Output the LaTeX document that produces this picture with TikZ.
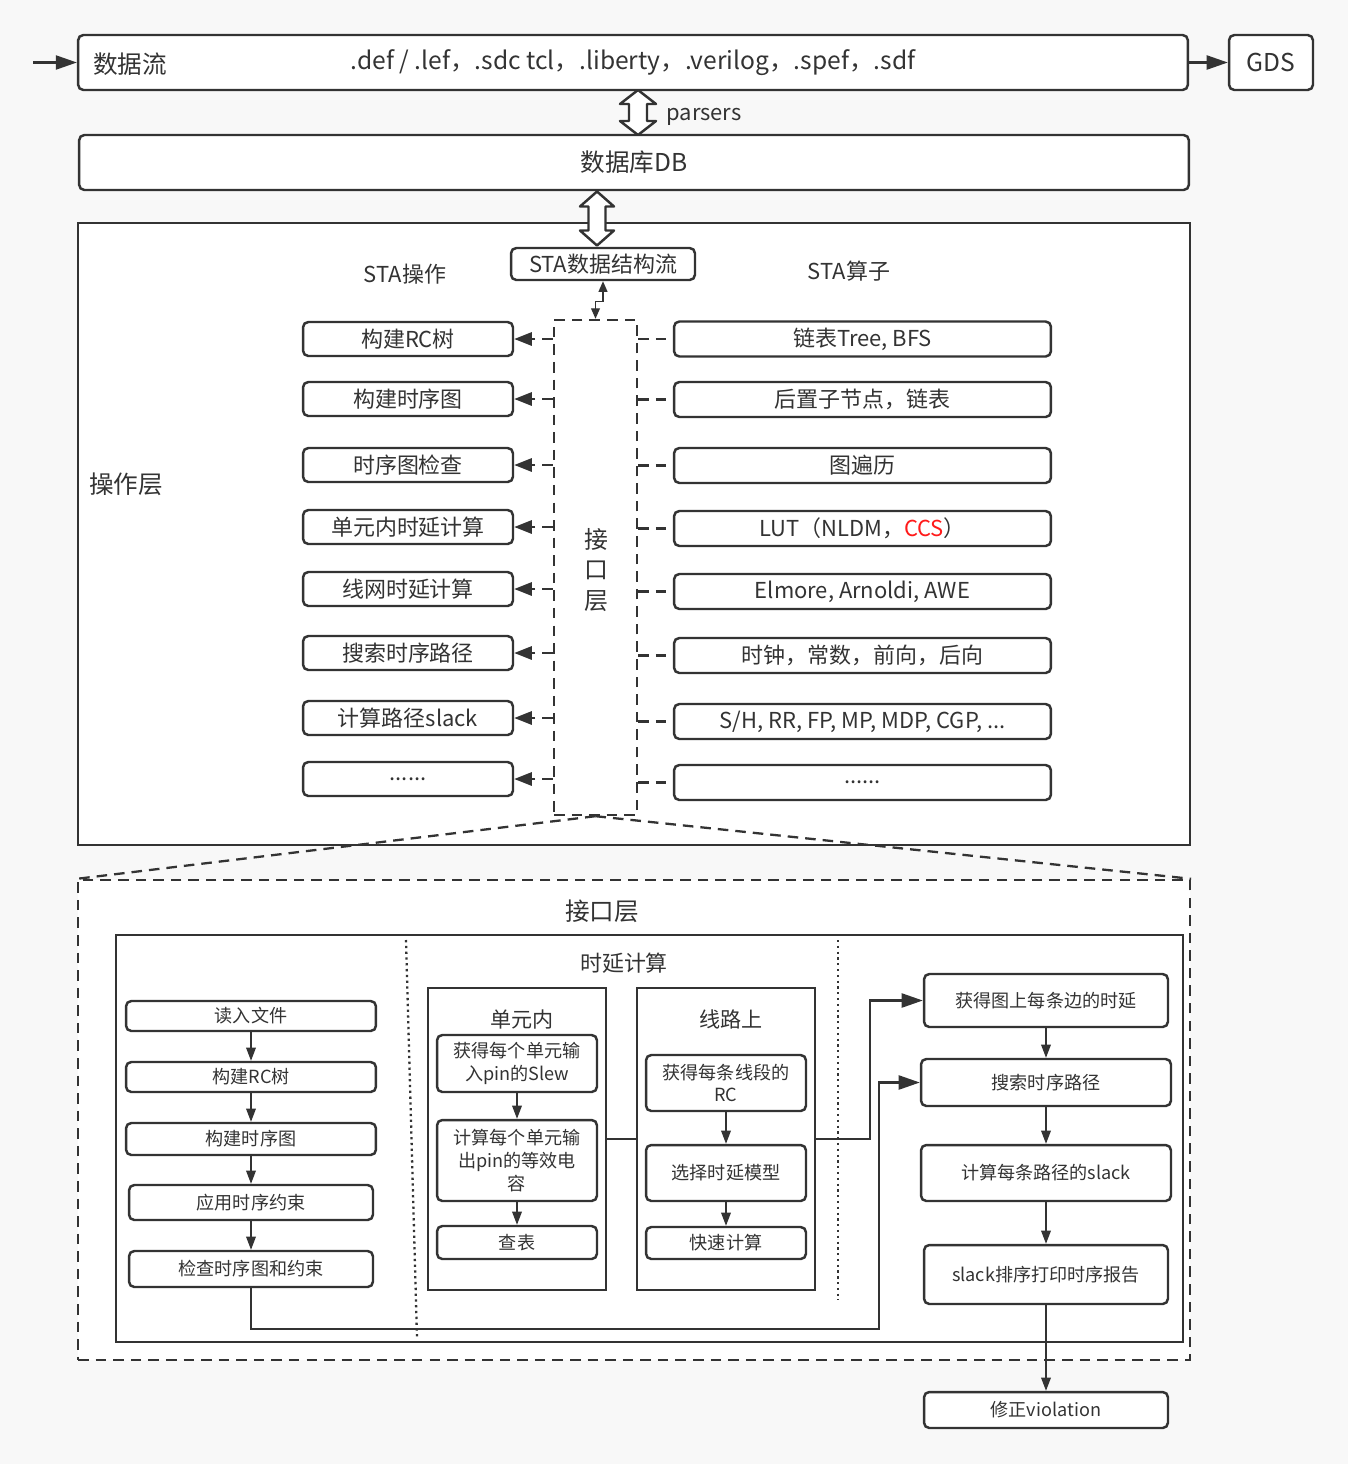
\documentclass[tikz,border=0pt]{standalone}
\usepackage{fontspec}
\setmainfont{Noto Sans CJK SC}
\usepackage{tikz}
\usetikzlibrary{arrows.meta,positioning,calc}
\definecolor{linec}{HTML}{333333}
\definecolor{txtc}{HTML}{333333}
\definecolor{bgc}{HTML}{F8F8F8}
\definecolor{ccsred}{HTML}{FF1A1A}

\begin{document}
\begin{tikzpicture}[
    x=0.02cm, y=-0.02cm,
    every node/.style={text=txtc, inner sep=0pt},
    bigfont/.style={font=\fontsize{14}{17}\selectfont},
    midfont/.style={font=\fontsize{12.5}{15}\selectfont},
    smallfont/.style={font=\fontsize{10.3}{13}\selectfont},
    box/.style={rectangle, draw=linec, fill=white, line width=1.4pt, rounded corners=3pt},
    opbox/.style={box, midfont, minimum width=4.2cm, minimum height=0.68cm},
    algbox/.style={box, midfont, minimum width=7.54cm, minimum height=0.7cm},
    stepbox/.style={box, smallfont, minimum width=5cm, minimum height=0.6cm},
    subbox/.style={box, smallfont, minimum width=3.2cm, align=center},
    frame/.style={rectangle, draw=linec, fill=white, line width=1.4pt},
    ifacebox/.style={rectangle, draw=linec, line width=1.4pt, dash pattern=on 6pt off 4pt},
    flow/.style={-{Triangle[length=12pt,width=8pt]}, draw=linec, line width=1.2pt},
    opflow/.style={-{Triangle[length=10pt,width=7.5pt]}, draw=linec, line width=1.3pt, dash pattern=on 6pt off 4pt},
    link/.style={draw=linec, line width=1.3pt, dash pattern=on 6pt off 4pt},
    sflow/.style={-{Triangle[length=7.5pt,width=5.5pt]}, draw=linec, line width=0.8pt},
    biflow/.style={{Triangle[length=6pt,width=5pt]}-{Triangle[length=6pt,width=5pt]}, draw=linec, line width=0.8pt},
    dotsep/.style={draw=linec, line width=1.3pt, dash pattern=on 1.3pt off 2pt},
    hollow/.style={draw=linec, fill=white, line width=1.4pt, line join=round}
]
\fill[bgc] (0,0) rectangle (1348,1464);

% Input files, database and output
\node[box, bigfont, minimum width=22.2cm, minimum height=1.1cm] (flow) at (633,62.5) {.def / .lef，.sdc tcl，.liberty，.verilog，.spef，.sdf};
\node[bigfont, anchor=west] (flowlbl) at (93,64) {数据流};
\node[box, bigfont, minimum width=1.68cm, minimum height=1.1cm] (gds) at (1271,62.5) {GDS};
\node[box, bigfont, minimum width=22.2cm, minimum height=1.1cm] (db) at (634,162.5) {数据库DB};
\coordinate (src) at (33,62.5);
\draw[flow] (src) -- (flow.west);
\draw[flow] (flow.east) -- (gds.west);

% parsers
\coordinate (parse) at (638,112.5);
\draw[hollow] (parse) ++(0,-22.5) -- ++(18,14) -- ++(-9,0) -- ++(0,17) -- ++(9,0) -- ++(-18,14)
    -- ++(-18,-14) -- ++(9,0) -- ++(0,-17) -- ++(-9,0) -- cycle;
\node[midfont] (parselbl) at (704,117) {parsers};

% Operation layer
\node[frame, minimum width=22.24cm, minimum height=12.44cm] (oplayer) at (634,534) {};
\node[bigfont] (oplbl) at (126,484) {操作层};
\coordinate (dbio) at (597,218.5);
\draw[hollow] (dbio) ++(0,-27) -- ++(17,15) -- ++(-8.5,0) -- ++(0,24) -- ++(8.5,0) -- ++(-17,15)
    -- ++(-17,-15) -- ++(8.5,0) -- ++(0,-24) -- ++(-8.5,0) -- cycle;

\node[box, midfont, minimum width=3.68cm, minimum height=0.64cm] (stad) at (603,264) {STA数据结构流};
\node[midfont] (ophead) at (405,274) {STA操作};
\node[midfont] (alghead) at (849,271) {STA算子};

\node[ifacebox, minimum width=1.66cm, minimum height=9.9cm] (iface) at (595.5,567.5) {};
\node[font=\fontsize{13.6}{17.6}\selectfont, align=center] (ifacelbl) at (596,570) {接\\口\\层};
\draw[biflow] (stad.south) -- ++(0,20) -| (iface.north);

\node[opbox] (o1) at (408,339) {构建RC树};
\node[opbox] (o2) at (408,399) {构建时序图};
\node[opbox] (o3) at (408,465) {时序图检查};
\node[opbox] (o4) at (408,527) {单元内时延计算};
\node[opbox] (o5) at (408,589) {线网时延计算};
\node[opbox] (o6) at (408,653) {搜索时序路径};
\node[opbox] (o7) at (408,718) {计算路径slack};
\node[opbox] (o8) at (408,779) {......};

\node[algbox] (a1) at (862.5,339) {链表Tree, BFS};
\node[algbox] (a2) at (862.5,399.5) {后置子节点，链表};
\node[algbox] (a3) at (862.5,465.5) {图遍历};
\node[algbox] (a4) at (862.5,528.5) {LUT（NLDM，\textcolor{ccsred}{CCS}）};
\node[algbox] (a5) at (862.5,591.5) {Elmore, Arnoldi, AWE};
\node[algbox] (a6) at (862.5,655.5) {时钟，常数，前向，后向};
\node[algbox] (a7) at (862.5,721.5) {S/H, RR, FP, MP, MDP, CGP, ...};
\node[algbox] (a8) at (862.5,782.5) {......};

\draw[opflow] (iface.west |- o1) -- (o1.east);
\draw[opflow] (iface.west |- o2) -- (o2.east);
\draw[opflow] (iface.west |- o3) -- (o3.east);
\draw[opflow] (iface.west |- o4) -- (o4.east);
\draw[opflow] (iface.west |- o5) -- (o5.east);
\draw[opflow] (iface.west |- o6) -- (o6.east);
\draw[opflow] (iface.west |- o7) -- (o7.east);
\draw[opflow] (iface.west |- o8) -- (o8.east);

\draw[link] (iface.east |- a1) -- (a1.west);
\draw[link] (iface.east |- a2) -- (a2.west);
\draw[link] (iface.east |- a3) -- (a3.west);
\draw[link] (iface.east |- a4) -- (a4.west);
\draw[link] (iface.east |- a5) -- (a5.west);
\draw[link] (iface.east |- a6) -- (a6.west);
\draw[link] (iface.east |- a7) -- (a7.west);
\draw[link] (iface.east |- a8) -- (a8.west);

% Interface layer in detail
\node[ifacebox, fill=white, minimum width=22.24cm, minimum height=9.6cm] (ifbox) at (634,1120) {};
\draw[link] (iface.south) -- (ifbox.north west);
\draw[link] (iface.south) -- (ifbox.north east);
\node[bigfont] (ifboxlbl) at (602,911) {接口层};
\node[frame, minimum width=21.34cm, minimum height=8.14cm] (inner) at (649.5,1138.5) {};
\draw[dotsep] (406,940) -- (417,1338);
\draw[dotsep] (838,940) -- (838,1300);
\node[midfont] (delayhead) at (624,963) {时延计算};

% Build steps
\node[stepbox] (l1) at (251,1016) {读入文件};
\node[stepbox] (l2) at (251,1077) {构建RC树};
\node[stepbox, minimum height=0.64cm] (l3) at (251,1139) {构建时序图};
\node[stepbox, minimum width=4.88cm, minimum height=0.7cm] (l4) at (251,1202.5) {应用时序约束};
\node[stepbox, minimum width=4.88cm, minimum height=0.72cm] (l5) at (251,1269) {检查时序图和约束};
\draw[sflow] (l1) -- (l2);
\draw[sflow] (l2) -- (l3);
\draw[sflow] (l3) -- (l4);
\draw[sflow] (l4) -- (l5);

% Delay calculation
\node[frame, minimum width=3.56cm, minimum height=6.04cm] (cell) at (517,1139) {};
\node[font=\fontsize{12}{14}\selectfont] (celllbl) at (522,1019) {单元内};
\node[subbox, minimum height=1.14cm] (c1) at (517,1063.5) {获得每个单元输\\入pin的Slew};
\node[subbox, minimum height=1.62cm] (c2) at (517,1160.5) {计算每个单元输\\出pin的等效电\\容};
\node[subbox, minimum height=0.66cm] (c3) at (517,1242.5) {查表};
\draw[sflow] (c1) -- (c2);
\draw[sflow] (c2) -- (c3);

\node[frame, minimum width=3.56cm, minimum height=6.04cm] (wire) at (726,1139) {};
\node[font=\fontsize{12}{14}\selectfont] (wirelbl) at (731,1019) {线路上};
\node[subbox, minimum height=1.12cm] (w1) at (726,1083) {获得每条线段的\\RC};
\node[subbox, minimum height=1.12cm] (w2) at (726,1173) {选择时延模型};
\node[subbox, minimum height=0.64cm] (w3) at (726,1243) {快速计算};
\draw[sflow] (w1) -- (w2);
\draw[sflow] (w2) -- (w3);
\draw[draw=linec, line width=1.2pt] (cell.east) -- (wire.west);

% Path analysis
\node[stepbox, minimum width=4.88cm, minimum height=1.06cm] (r1) at (1046,1000.5) {获得图上每条边的时延};
\node[stepbox, minimum height=0.94cm] (r2) at (1046,1082.5) {搜索时序路径};
\node[stepbox, minimum height=1.12cm] (r3) at (1046,1173) {计算每条路径的slack};
\node[stepbox, minimum width=4.88cm, minimum height=1.18cm] (r4) at (1046,1274.5) {slack排序打印时序报告};
\node[stepbox, minimum width=4.88cm, minimum height=0.72cm] (fix) at (1046,1410) {修正violation};
\draw[sflow] (r1) -- (r2);
\draw[sflow] (r2) -- (r3);
\draw[sflow] (r3) -- (r4);
\draw[sflow] (r4) -- (fix);

\draw[flow] (wire.east) -- ++(54,0) |- (r1.west);
\draw[flow] (l5.south) -- ++(0,41) -| ([xshift=-0.82cm]r2.west) -- (r2.west);

\end{tikzpicture}
\end{document}
